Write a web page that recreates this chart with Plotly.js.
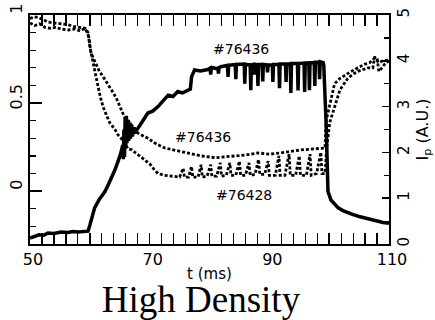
<!DOCTYPE html>
<html>
<head>
<meta charset="utf-8">
<script src="https://cdn.plot.ly/plotly-3.0.1.min.js"></script>
<style>
  html, body { margin: 0; padding: 0; background: #fff; }
  #chart { width: 435px; height: 320px; }
</style>
</head>
<body>
<div id="chart"></div>
<script>
// Plasma current of shot #76436 (right axis, A.U.)
var ipTime = [50, 50.8, 51.5, 52.3, 53, 54, 55.2, 56.3, 57.2, 58, 59, 59.7, 60.0, 60.4, 60.8, 61.6, 62.5, 63.1, 63.6, 64.2, 64.7, 65.1, 65.5,
  65.6, 65.7, 65.8, 65.9, 66.0, 66.1, 66.2, 66.4, 66.5, 66.7, 66.8, 67.0, 67.1, 67.4, 67.5,
  68.4, 69.0, 69.7, 70.5, 71.4, 72.2, 73.1, 73.9, 74.7, 75.5, 76.4, 76.8, 77.0, 77.5, 78.5, 79.7,
  80.1, 80.2, 80.3, 80.5, 81.2, 81.4, 81.5, 81.6, 81.9, 82.6,
  83.0, 83.1, 83.2, 84.3, 84.4, 84.5, 85.8, 85.9, 86.0, 86.8, 86.9, 87.0, 87.4, 87.5, 87.6, 88.0, 88.1, 88.2,
  88.8, 88.9, 89.0, 89.6, 89.7, 89.8, 90.5, 90.6, 90.7, 91.6, 91.7, 91.8, 92.7, 92.8, 92.9, 93.5, 93.6, 93.7,
  94.7, 94.8, 94.9, 95.8, 95.9, 96.0, 96.6, 96.7, 96.8, 97.5, 97.6, 97.7, 98.3, 98.4, 98.5, 99.0,
  99.1, 99.5, 99.8, 100.3, 100.9, 101.5, 102.3, 103.1, 104.0, 105.0, 105.9, 107.0, 108.2, 109.0, 110];
var ipValue = [0.13, 0.17, 0.2, 0.19, 0.24, 0.23, 0.26, 0.25, 0.27, 0.26, 0.28, 0.28, 0.41, 0.6, 0.79, 0.98, 1.14, 1.3, 1.44, 1.62, 1.8, 1.95, 2.16,
  1.85, 2.5, 1.9, 2.75, 2.1, 2.8, 2.2, 2.7, 2.25, 2.65, 2.3, 2.6, 2.35, 2.55, 2.42,
  2.6, 2.72, 2.86, 2.9, 3.0, 3.12, 3.25, 3.22, 3.33, 3.3, 3.36, 3.38, 3.65, 3.8, 3.78, 3.81,
  3.84, 3.7, 3.84, 3.85, 3.83, 3.84, 3.72, 3.85, 3.87, 3.9,
  3.9, 3.65, 3.9, 3.92, 3.6, 3.92, 3.93, 3.5, 3.92, 3.91, 3.36, 3.91, 3.92, 3.7, 3.92, 3.91, 3.45, 3.92,
  3.92, 3.55, 3.92, 3.91, 3.75, 3.91, 3.91, 3.54, 3.92, 3.92, 3.4, 3.93, 3.93, 3.54, 3.93, 3.93, 3.3, 3.94,
  3.94, 3.35, 3.94, 3.95, 3.32, 3.95, 3.95, 3.36, 3.96, 3.96, 3.45, 3.97, 3.97, 3.6, 3.98, 3.96,
  3.9, 2.6, 1.15, 0.96, 0.86, 0.79, 0.73, 0.68, 0.64, 0.6, 0.57, 0.53, 0.49, 0.47, 0.45];

// Shot #76436 (left axis)
var shotATime = [50, 50.7, 51.5, 52.3, 53, 54, 55, 56.4, 57.3, 58.2, 59.2, 59.7, 60.2, 60.9, 61.6, 62.3, 63.0, 63.7, 64.4, 65.1, 65.8, 66.4, 66.9,
  68.0, 69.7, 71.0, 72.5, 74.4, 76.4, 78.6, 80.9, 82.5, 84.2, 86.0, 88.1, 90.1, 92.5, 95.3, 97.5, 99.3,
  99.5, 100.3, 100.9, 101.8, 102.7, 103.7, 104.8, 105.9, 106.8, 107.6, 108.3, 109.0, 110];
var shotAValue = [0.98, 0.99, 0.985, 0.97, 0.96, 0.955, 0.95, 0.945, 0.935, 0.93, 0.925, 0.9, 0.785, 0.73, 0.68, 0.645, 0.61, 0.57, 0.53, 0.47, 0.42, 0.40, 0.38,
  0.33, 0.30, 0.27, 0.245, 0.23, 0.217, 0.2, 0.19, 0.195, 0.2, 0.205, 0.217, 0.21, 0.22, 0.234, 0.24, 0.245,
  0.40, 0.53, 0.61, 0.64, 0.66, 0.68, 0.70, 0.72, 0.73, 0.755, 0.73, 0.74, 0.745];

// Shot #76428 (left axis)
var shotBTime = [50, 50.8, 51.6, 52.5, 53.4, 54.3, 55.2, 56.4, 57.5, 58.4, 59.2, 59.8, 60.0, 60.5, 61.0, 61.4, 61.8, 62.2, 62.8, 63.3, 64.2, 64.7, 65.5,
  66.4, 67.0, 68.0, 69.0, 70.0, 70.7, 71.4, 72.5, 73.5, 74.2,
  75.0, 75.6, 75.8, 76.5, 77.0, 77.2, 78.1, 78.6, 78.8, 79.6, 80.2, 80.4, 81.2, 81.8, 82.0, 82.8, 83.4, 83.6,
  84.4, 85.0, 85.2, 86.0, 86.6, 86.8, 87.6, 88.2, 88.4, 89.2, 89.8, 90.0, 91.0, 91.6, 91.8, 92.6, 93.3, 93.5,
  94.4, 95.0, 95.2, 96.2, 96.8, 97.0, 97.9, 98.6, 98.8, 99.3,
  99.6, 100.1, 100.9, 101.8, 103.1, 104.0, 104.8, 105.7, 106.5, 107.3, 107.6, 108.0, 108.3, 108.8, 109.5, 110];
var shotBValue = [0.955, 0.94, 0.95, 0.93, 0.925, 0.93, 0.92, 0.915, 0.92, 0.91, 0.925, 0.88, 0.82, 0.73, 0.66, 0.59, 0.53, 0.48, 0.43, 0.39, 0.35, 0.32, 0.29,
  0.24, 0.235, 0.21, 0.18, 0.155, 0.125, 0.1, 0.09, 0.085, 0.08,
  0.08, 0.13, 0.08, 0.08, 0.14, 0.08, 0.08, 0.15, 0.08, 0.085, 0.15, 0.085, 0.085, 0.16, 0.085, 0.09, 0.16, 0.09,
  0.09, 0.17, 0.09, 0.09, 0.16, 0.09, 0.095, 0.18, 0.095, 0.095, 0.17, 0.09, 0.09, 0.2, 0.09, 0.09, 0.21, 0.09,
  0.09, 0.2, 0.09, 0.09, 0.21, 0.09, 0.1, 0.22, 0.1, 0.1,
  0.25, 0.39, 0.48, 0.575, 0.64, 0.665, 0.68, 0.69, 0.70, 0.70, 0.76, 0.76, 0.68, 0.70, 0.73, 0.74];

// Curve labels
var labelText = ['#76436', '#76436', '#76428'];
var labelTime = [85.3, 78.9, 85.7];
var labelLevel = [0.807, 0.308, -0.022];

var black = '#000';
var sans = 'DejaVu Sans';

var traces = [
  { x: shotATime, y: shotAValue, mode: 'lines', line: { color: black, width: 2.8, dash: '3px,2px' }, yaxis: 'y', hoverinfo: 'skip' },
  { x: shotBTime, y: shotBValue, mode: 'lines', line: { color: black, width: 2.8, dash: '3px,2px' }, yaxis: 'y', hoverinfo: 'skip' },
  { x: ipTime, y: ipValue, mode: 'lines', line: { color: black, width: 3.5 }, yaxis: 'y2', hoverinfo: 'skip' }
];

var annotations = labelText.map(function (t, i) {
  return { text: t, x: labelTime[i], y: labelLevel[i], xref: 'x', yref: 'y', showarrow: false,
    xanchor: 'center', yanchor: 'middle', font: { family: sans, size: 14, color: black } };
});

var layout = {
  width: 435, height: 320,
  margin: { l: 30, r: 46, t: 15, b: 76 },
  paper_bgcolor: '#fff', plot_bgcolor: '#fff',
  showlegend: false,
  title: { text: 'High Density', font: { family: 'Liberation Serif', size: 37, color: black },
    x: 0.462, xanchor: 'center', xref: 'container', y: 0.064, yanchor: 'middle', yref: 'container' },
  xaxis: {
    range: [50, 110], tick0: 50, dtick: 10, ticklabelstep: 2,
    ticks: 'inside', ticklen: 11, tickwidth: 1.5, tickcolor: black,
    showline: true, linecolor: black, linewidth: 2, mirror: 'allticks',
    showgrid: false, zeroline: false, ticklabelshift: 3,
    minor: { dtick: 2, tick0: 50, ticks: 'inside', ticklen: 6, tickwidth: 1.2, tickcolor: black, showgrid: false },
    tickfont: { family: sans, size: 16, color: black },
    title: { text: 't (ms)', font: { family: sans, size: 15, color: black }, standoff: 0 }
  },
  yaxis: {
    range: [-0.3, 1], tick0: 0, dtick: 0.5,
    ticks: 'inside', ticklen: 12, tickwidth: 1.5, tickcolor: black,
    showline: true, linecolor: black, linewidth: 2, mirror: false,
    showgrid: false, zeroline: false, tickangle: -90, ticklabelshift: -4,
    minor: { dtick: 0.1, tick0: 0, ticks: 'inside', ticklen: 6, tickwidth: 1.2, tickcolor: black, showgrid: false },
    tickfont: { family: sans, size: 16, color: black }
  },
  yaxis2: {
    range: [0, 5], overlaying: 'y', side: 'right', dtick: 1, tick0: 0,
    ticks: 'inside', ticklen: 7, tickwidth: 1.5, tickcolor: black,
    showline: true, linecolor: black, linewidth: 2,
    showgrid: false, zeroline: false, tickangle: -90,
    minor: { dtick: 0.5, tick0: 0, ticks: 'inside', ticklen: 5, tickwidth: 1.2, tickcolor: black, showgrid: false },
    tickfont: { family: sans, size: 15, color: black },
    title: { text: 'I<sub>p</sub> (A.U.)', font: { family: sans, size: 16, color: black }, standoff: 4 }
  },
  annotations: annotations
};

Plotly.newPlot('chart', traces, layout, { staticPlot: true, displayModeBar: false });
</script>
</body>
</html>
